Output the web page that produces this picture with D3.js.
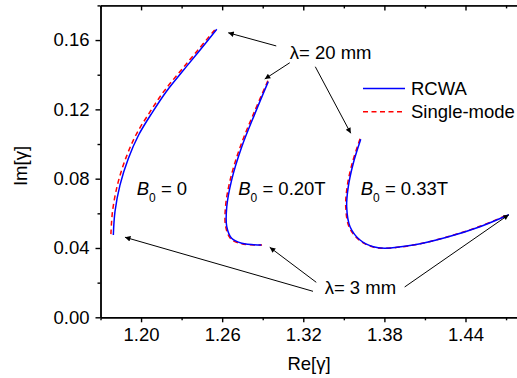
<!DOCTYPE html>
<html>
<head>
<meta charset="utf-8">
<script src="https://cdn.jsdelivr.net/npm/d3@7"></script>
<style>
  body { margin: 0; background: #fff; }
  text { font-family: "Liberation Sans", Arial, sans-serif; fill: #000; }
</style>
</head>
<body>
<div id="chart"></div>
<script>
// data: [Re, Im] pairs
const rcwa_b0    = [[1.1795,0.0475],[1.1807,0.0609],[1.1844,0.0763],[1.1906,0.0917],[1.1982,0.1052],[1.2086,0.1186],[1.2186,0.1302],[1.2304,0.1417],[1.2426,0.1533],[1.2560,0.1662]];
const single_b0  = [[1.1777,0.0480],[1.1789,0.0612],[1.1826,0.0766],[1.1888,0.0920],[1.1964,0.1055],[1.2069,0.1189],[1.2170,0.1305],[1.2290,0.1420],[1.2414,0.1536],[1.2555,0.1668]];
const rcwa_b20   = [[1.2941,0.1360],[1.2843,0.1177],[1.2745,0.0984],[1.2670,0.0792],[1.2634,0.0638],[1.2634,0.0523],[1.2670,0.0456],[1.2745,0.0427],[1.2890,0.0417]];
const single_b20 = [[1.2938,0.1365],[1.2835,0.1180],[1.2735,0.0987],[1.2660,0.0795],[1.2625,0.0640],[1.2626,0.0523],[1.2665,0.0452],[1.2745,0.0424],[1.2895,0.0417]];
const rcwa_b33   = [[1.3625,0.1027],[1.3570,0.0889],[1.3533,0.0754],[1.3521,0.0638],[1.3546,0.0523],[1.3620,0.0446],[1.3718,0.0407],[1.3800,0.0399],[1.4014,0.0417],[1.4261,0.0462],[1.4507,0.0523],[1.4720,0.0592]];
const single_b33 = [[1.3620,0.1030],[1.3562,0.0890],[1.3525,0.0755],[1.3514,0.0638],[1.3540,0.0520],[1.3618,0.0443],[1.3718,0.0405],[1.3800,0.0398],[1.4014,0.0417],[1.4261,0.0463],[1.4507,0.0525],[1.4720,0.0594]];

const x_ticks = [1.20, 1.26, 1.32, 1.38, 1.44];
const x_minor = [1.17, 1.23, 1.29, 1.35, 1.41, 1.47];
const y_ticks = [0.00, 0.04, 0.08, 0.12, 0.16];
const y_minor = [0.02, 0.06, 0.10, 0.14, 0.18];

const legend_names = ['RCWA', 'Single-mode'];

// annotation arrows, [from, to] in data units
const arrows_20mm = [[[1.3000,0.1566],[1.2645,0.1642]], [[1.3100,0.1469],[1.2915,0.1375]], [[1.3289,0.1446],[1.3551,0.1062]]];
const arrows_3mm  = [[[1.3272,0.0150],[1.1881,0.0462]], [[1.3296,0.0202],[1.2952,0.0404]], [[1.3950,0.0175],[1.4720,0.0592]]];

const width = 517, height = 378;
const plot_left = 100.5, plot_top = 5.4, plot_bottom = 317.3;

const svg = d3.select('#chart')
  .append('svg')
  .attr('width', width)
  .attr('height', height);

const x = d3.scaleLinear().domain([1.17, 1.48]).range([plot_left, plot_left + 0.31 * 1351.85]);
const y = d3.scaleLinear().domain([0, 0.18]).range([plot_bottom, plot_top]);

const line = d3.line()
  .x(d => x(d[0]))
  .y(d => y(d[1]))
  .curve(d3.curveCatmullRom.alpha(0.5));

// axes
function style_axis(g)
{
  g.selectAll('path, line').attr('stroke', '#000').attr('stroke-width', 1.4);
  g.selectAll('text').attr('font-size', '18.5px').attr('font-family', '"Liberation Sans", Arial, sans-serif');
}

svg.append('g')
  .attr('transform', `translate(0,${plot_bottom})`)
  .call(d3.axisBottom(x).tickValues(x_ticks).tickFormat(d3.format('.2f')).tickSize(5).tickSizeOuter(0).tickPadding(6))
  .call(style_axis);
svg.append('g')
  .attr('transform', `translate(0,${plot_bottom})`)
  .call(d3.axisBottom(x).tickValues(x_minor).tickFormat('').tickSize(3).tickSizeOuter(0))
  .call(style_axis);

svg.append('g')
  .attr('transform', `translate(0,${plot_top})`)
  .call(d3.axisTop(x).tickValues(x_ticks).tickFormat('').tickSize(-5).tickSizeOuter(0))
  .call(style_axis);
svg.append('g')
  .attr('transform', `translate(0,${plot_top})`)
  .call(d3.axisTop(x).tickValues(x_minor).tickFormat('').tickSize(-3).tickSizeOuter(0))
  .call(style_axis);

svg.append('g')
  .attr('transform', `translate(${plot_left},0)`)
  .call(d3.axisLeft(y).tickValues(y_ticks).tickFormat(d3.format('.2f')).tickSize(5).tickSizeOuter(0).tickPadding(6))
  .call(style_axis);
svg.append('g')
  .attr('transform', `translate(${plot_left},0)`)
  .call(d3.axisLeft(y).tickValues(y_minor).tickFormat('').tickSize(3).tickSizeOuter(0))
  .call(style_axis);

svg.append('text')
  .attr('x', 309)
  .attr('y', 370)
  .attr('text-anchor', 'middle')
  .attr('font-size', '18.5px')
  .text('Re[γ]');

svg.append('text')
  .attr('transform', 'translate(27,166) rotate(-90)')
  .attr('text-anchor', 'middle')
  .attr('font-size', '18.5px')
  .text('Im[γ]');

// curves
const series = [
  { data: single_b0, kind: 1 }, { data: rcwa_b0, kind: 0 },
  { data: single_b20, kind: 1 }, { data: rcwa_b20, kind: 0 },
  { data: single_b33, kind: 1 }, { data: rcwa_b33, kind: 0 }
];
const colors = ['#0000ff', '#ff0000'];
const dashes = [null, '5,3.5'];

svg.append('g')
  .selectAll('path')
  .data(series)
  .enter()
  .append('path')
  .attr('d', d => line(d.data))
  .attr('fill', 'none')
  .attr('stroke', d => colors[d.kind])
  .attr('stroke-width', 1.5)
  .attr('stroke-dasharray', d => dashes[d.kind]);

// arrows
svg.append('defs')
  .append('marker')
  .attr('id', 'head')
  .attr('viewBox', '0 0 10 10')
  .attr('refX', 10)
  .attr('refY', 5)
  .attr('markerWidth', 11)
  .attr('markerHeight', 5.5)
  .attr('markerUnits', 'userSpaceOnUse')
  .attr('orient', 'auto')
  .append('path')
  .attr('d', 'M0,0L10,5L0,10Z')
  .attr('fill', '#000');

svg.append('g')
  .selectAll('line')
  .data(arrows_20mm.concat(arrows_3mm))
  .enter()
  .append('line')
  .attr('x1', d => x(d[0][0]))
  .attr('y1', d => y(d[0][1]))
  .attr('x2', d => x(d[1][0]))
  .attr('y2', d => y(d[1][1]))
  .attr('stroke', '#000')
  .attr('stroke-width', 1)
  .attr('marker-end', 'url(#head)');

svg.append('text')
  .attr('x', x(1.3100))
  .attr('y', y(0.1493))
  .attr('font-size', '18.5px')
  .text('λ= 20 mm');

svg.append('text')
  .attr('x', x(1.3358))
  .attr('y', y(0.0132))
  .attr('font-size', '18.5px')
  .text('λ= 3 mm');

// B0 labels
const b_labels = [[1.1968, 0.0706, ' = 0'], [1.2719, 0.0706, ' = 0.20T'], [1.3625, 0.0706, ' = 0.33T']];
b_labels.forEach(b => {
  const t = svg.append('text')
    .attr('x', x(b[0]))
    .attr('y', y(b[1]))
    .attr('font-size', '18.5px');
  t.append('tspan').attr('font-style', 'italic').text('B');
  t.append('tspan').attr('font-size', '12px').attr('dy', 7).text('0');
  t.append('tspan').attr('dy', -7).text(b[2]);
});

// legend
const legend = svg.append('g');
legend_names.forEach((name, i) => {
  legend.append('line')
    .attr('x1', 363).attr('x2', 405)
    .attr('y1', 88.5 + i * 23.3).attr('y2', 88.5 + i * 23.3)
    .attr('stroke', colors[i])
    .attr('stroke-width', 1.5)
    .attr('stroke-dasharray', dashes[i]);
  legend.append('text')
    .attr('x', 411)
    .attr('y', 95 + i * 23.3)
    .attr('font-size', '18.5px')
    .text(name);
});
</script>
</body>
</html>
